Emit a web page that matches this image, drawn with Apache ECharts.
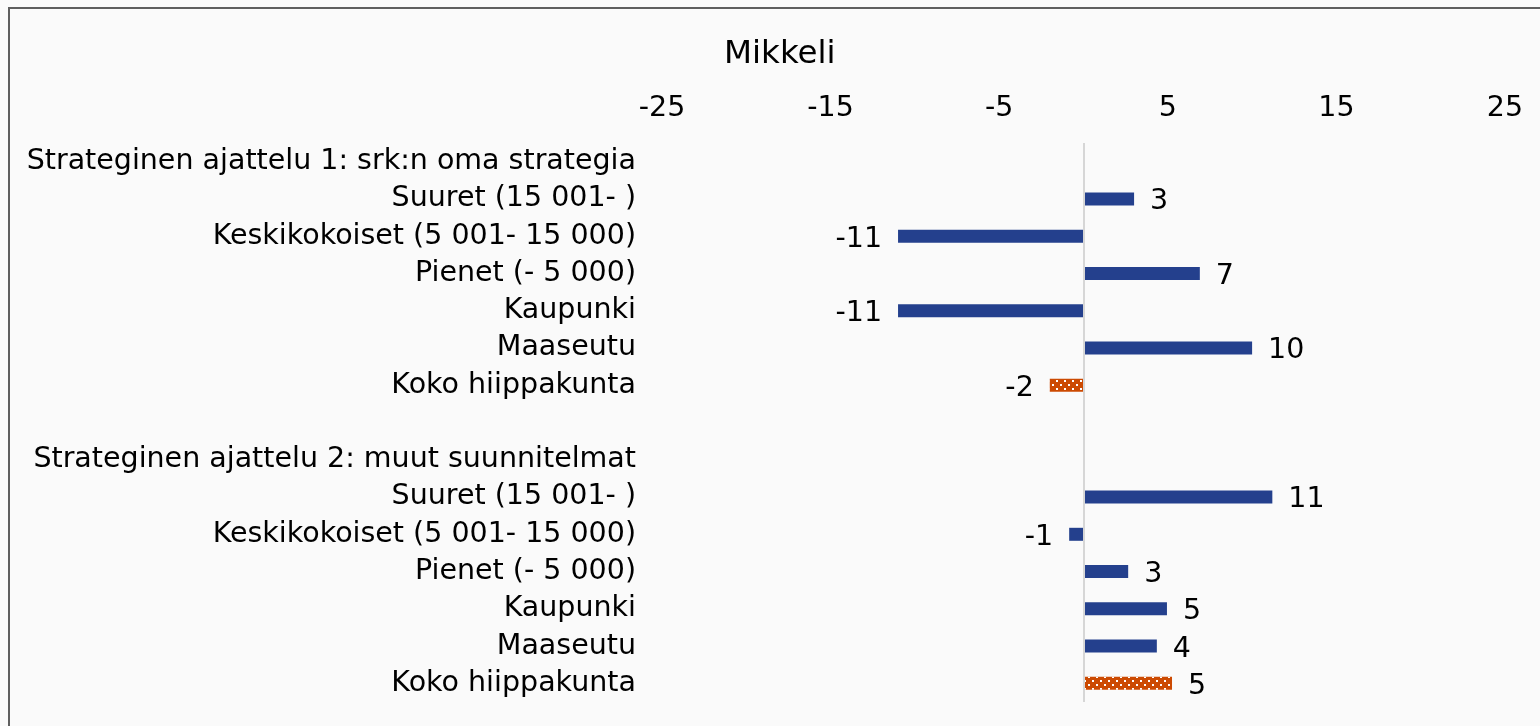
<!DOCTYPE html>
<html>
<head>
<meta charset="utf-8">
<script src="https://cdn.jsdelivr.net/npm/echarts@6/dist/echarts.min.js"></script>
<style>
  html, body { margin: 0; padding: 0; background: #fafafa; }
  #chart { width: 1540px; height: 726px; }
</style>
</head>
<body>
<div id="chart"></div>
<script>
var titleText = 'Mikkeli';

// rows top to bottom (header rows and the gap row carry no value)
var categories = [
  'Strateginen ajattelu 1: srk:n oma strategia',
  'Suuret (15 001- )',
  'Keskikokoiset (5 001- 15 000)',
  'Pienet (- 5 000)',
  'Kaupunki',
  'Maaseutu',
  'Koko hiippakunta',
  '',
  'Strateginen ajattelu 2: muut suunnitelmat',
  'Suuret (15 001- )',
  'Keskikokoiset (5 001- 15 000)',
  'Pienet (- 5 000)',
  'Kaupunki',
  'Maaseutu',
  'Koko hiippakunta'
];

var groupValues = [null, 3.0, -11.0, 6.9, -11.0, 10.0, null, null, null, 11.2, -0.85, 2.65, 4.95, 4.35, null];
var totalValues = [null, null, null, null, null, null, -2.0, null, null, null, null, null, null, null, 5.25];

var tickMin = -25;
var tickMax = 25;
var tickStep = 10;

function toItems(values) {
  return values.map(function (v) {
    if (v === null) return '-';
    return {
      value: v,
      label: { position: v < 0 ? 'left' : 'right' }
    };
  });
}

var labelFont = 'DejaVu Sans';
var labelSize = 28.5;

var valueLabel = {
  show: true,
  distance: 16,
  offset: [0, 3],
  color: '#000',
  fontFamily: labelFont,
  fontSize: labelSize,
  formatter: function (p) { return Math.round(p.value); }
};

var chart = echarts.init(document.getElementById('chart'));

chart.setOption({
  backgroundColor: '#fafafa',
  animation: false,
  title: {
    text: titleText,
    left: 724,
    top: 38,
    padding: 0,
    textStyle: {
      fontFamily: labelFont,
      fontSize: 32.5,
      fontWeight: 'normal',
      color: '#000'
    }
  },
  graphic: [{
    type: 'rect',
    silent: true,
    shape: { x: 9, y: 8, width: 1600, height: 800 },
    style: { fill: 'none', stroke: '#5f5f5f', lineWidth: 2 }
  }],
  grid: {
    left: 662,
    right: 35,
    top: 143,
    bottom: 24,
    containLabel: false
  },
  xAxis: {
    type: 'value',
    position: 'top',
    min: tickMin,
    max: tickMax,
    interval: tickStep,
    axisLine: { show: false },
    axisTick: { show: false },
    splitLine: { show: false },
    axisLabel: {
      margin: 20,
      color: '#000',
      fontFamily: labelFont,
      fontSize: labelSize
    }
  },
  yAxis: {
    type: 'category',
    inverse: true,
    data: categories,
    axisLine: { show: false, onZero: false },
    axisTick: { show: false },
    splitLine: { show: false },
    axisLabel: {
      margin: 26,
      interval: 0,
      color: '#000',
      fontFamily: labelFont,
      fontSize: labelSize,
      padding: [8, 0, 0, 0]
    }
  },
  series: [{
    name: 'Ryhmä',
    type: 'bar',
    barWidth: 13,
    barGap: '-100%',
    itemStyle: { color: '#24408d' },
    label: valueLabel,
    data: toItems(groupValues),
    markLine: {
      silent: true,
      symbol: 'none',
      label: { show: false },
      lineStyle: { color: '#d6d6d6', width: 2, type: 'solid' },
      data: [{ xAxis: 0 }]
    },
    z: 3
  }, {
    name: 'Koko hiippakunta',
    type: 'bar',
    barWidth: 13,
    barGap: '-100%',
    itemStyle: {
      color: '#cc4a02',
      decal: {
        symbol: 'rect',
        symbolSize: 1,
        color: '#ffffff',
        dashArrayX: [[2, 6], [0, 4, 2, 2]],
        dashArrayY: [2, 2]
      }
    },
    label: valueLabel,
    data: toItems(totalValues),
    z: 3
  }]
});
</script>
</body>
</html>
